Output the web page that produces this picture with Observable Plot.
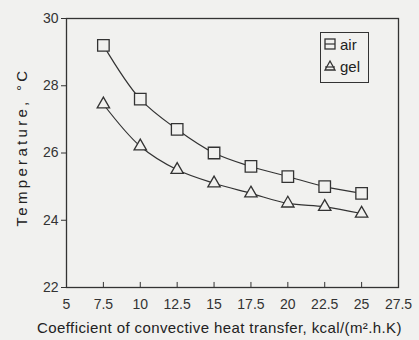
<!DOCTYPE html>
<html><head><meta charset="utf-8">
<script src="https://cdn.jsdelivr.net/npm/d3@7"></script>
<script src="https://cdn.jsdelivr.net/npm/@observablehq/plot@0.6"></script>
<style>
body{margin:0;background:#f1f1ef;}
#wrap{position:relative;width:419px;height:340px;font-family:"Liberation Sans",Arial,sans-serif;}
#legend{position:absolute;left:320px;top:32px;width:47px;height:49px;border:1.3px solid #333;font-size:15px;color:#222;}
#legend div{display:flex;align-items:center;height:22px;margin-left:2px;}
#legend svg{margin-right:3px;}
</style></head><body>
<div id="wrap"><div id="chart"></div>
<div id="legend"></div></div>
<script>
const coeff = [7.5, 10, 12.5, 15, 17.5, 20, 22.5, 25];
const air = [29.2, 27.6, 26.7, 26.0, 25.6, 25.3, 25.0, 24.8];
const gel = [27.45, 26.2, 25.5, 25.1, 24.8, 24.5, 24.4, 24.2];
const xTicks = [5, 7.5, 10, 12.5, 15, 17.5, 20, 22.5, 25, 27.5];
const yTicks = [22, 24, 26, 28, 30];
const seriesNames = ["air", "gel"];

const rows = [];
coeff.forEach((c, i) => { rows.push({x: c, y: air[i], s: "air"}); rows.push({x: c, y: gel[i], s: "gel"}); });
const ink = "#333";

const chart = Plot.plot({
  width: 419, height: 340,
  marginLeft: 66, marginTop: 18, marginRight: 21, marginBottom: 53,
  style: {background: "transparent", fontFamily: "'Liberation Sans', Arial, sans-serif", color: ink},
  x: {domain: [5, 27.5]},
  y: {domain: [22, 30]},
  marks: [
    Plot.frame({stroke: ink, strokeWidth: 1.3}),
    Plot.axisX({ticks: xTicks, tickFormat: d => String(d), tickSize: 0, tickPadding: 12, fontSize: 14, label: null}),
    Plot.ruleX(xTicks.slice(1, -1), {y1: 22, y2: 22.15, stroke: ink, strokeWidth: 1}),
    Plot.axisY({ticks: yTicks, tickSize: 5, tickPadding: 3, fontSize: 14, label: null, stroke: ink}),
    Plot.line(rows, {x: "x", y: "y", z: "s", stroke: ink, strokeWidth: 1.2, curve: "catmull-rom"}),
    Plot.dot(rows.filter(d => d.s === "air"), {x: "x", y: "y", symbol: "square", r: 6.5, stroke: ink, strokeWidth: 1.3, fill: "#f1f1ef"}),
    Plot.dot(rows.filter(d => d.s === "gel"), {x: "x", y: "y", symbol: "triangle", r: 4.6, stroke: ink, strokeWidth: 1.3, fill: "#f1f1ef"}),
    Plot.text(["Coefficient of convective heat transfer, kcal/(m².h.K)"], {frameAnchor: "bottom", dy: 45, dx: -13, fontSize: 15, fill: "#222", className: "xlab"}),
    Plot.text(["Temperature, °C"], {frameAnchor: "left", textAnchor: "middle", dx: -44, dy: -6, rotate: -90, fontSize: 15, fill: "#222", className: "ylab"})
  ]
});
chart.querySelectorAll(".xlab text").forEach(t => t.style.letterSpacing = "0.4px");
chart.querySelectorAll(".ylab text").forEach(t => t.style.letterSpacing = "3.3px");
document.getElementById("chart").append(chart);

const leg = document.getElementById("legend");
seriesNames.forEach(n => {
  const sym = n === "air"
    ? '<rect x="2" y="3" width="10" height="10" fill="none" stroke="#333" stroke-width="1.3"/><line x1="2" x2="12" y1="8" y2="8" stroke="#333" stroke-width="1.2"/>'
    : '<path d="M7 3 L12 12 L2 12 Z" fill="none" stroke="#333" stroke-width="1.3"/><line x1="2" x2="12" y1="9" y2="9" stroke="#333" stroke-width="1.2"/>';
  const d = document.createElement("div");
  d.innerHTML = `<svg width="14" height="16">${sym}</svg><span>${n}</span>`;
  leg.append(d);
});
</script>
</body></html>
